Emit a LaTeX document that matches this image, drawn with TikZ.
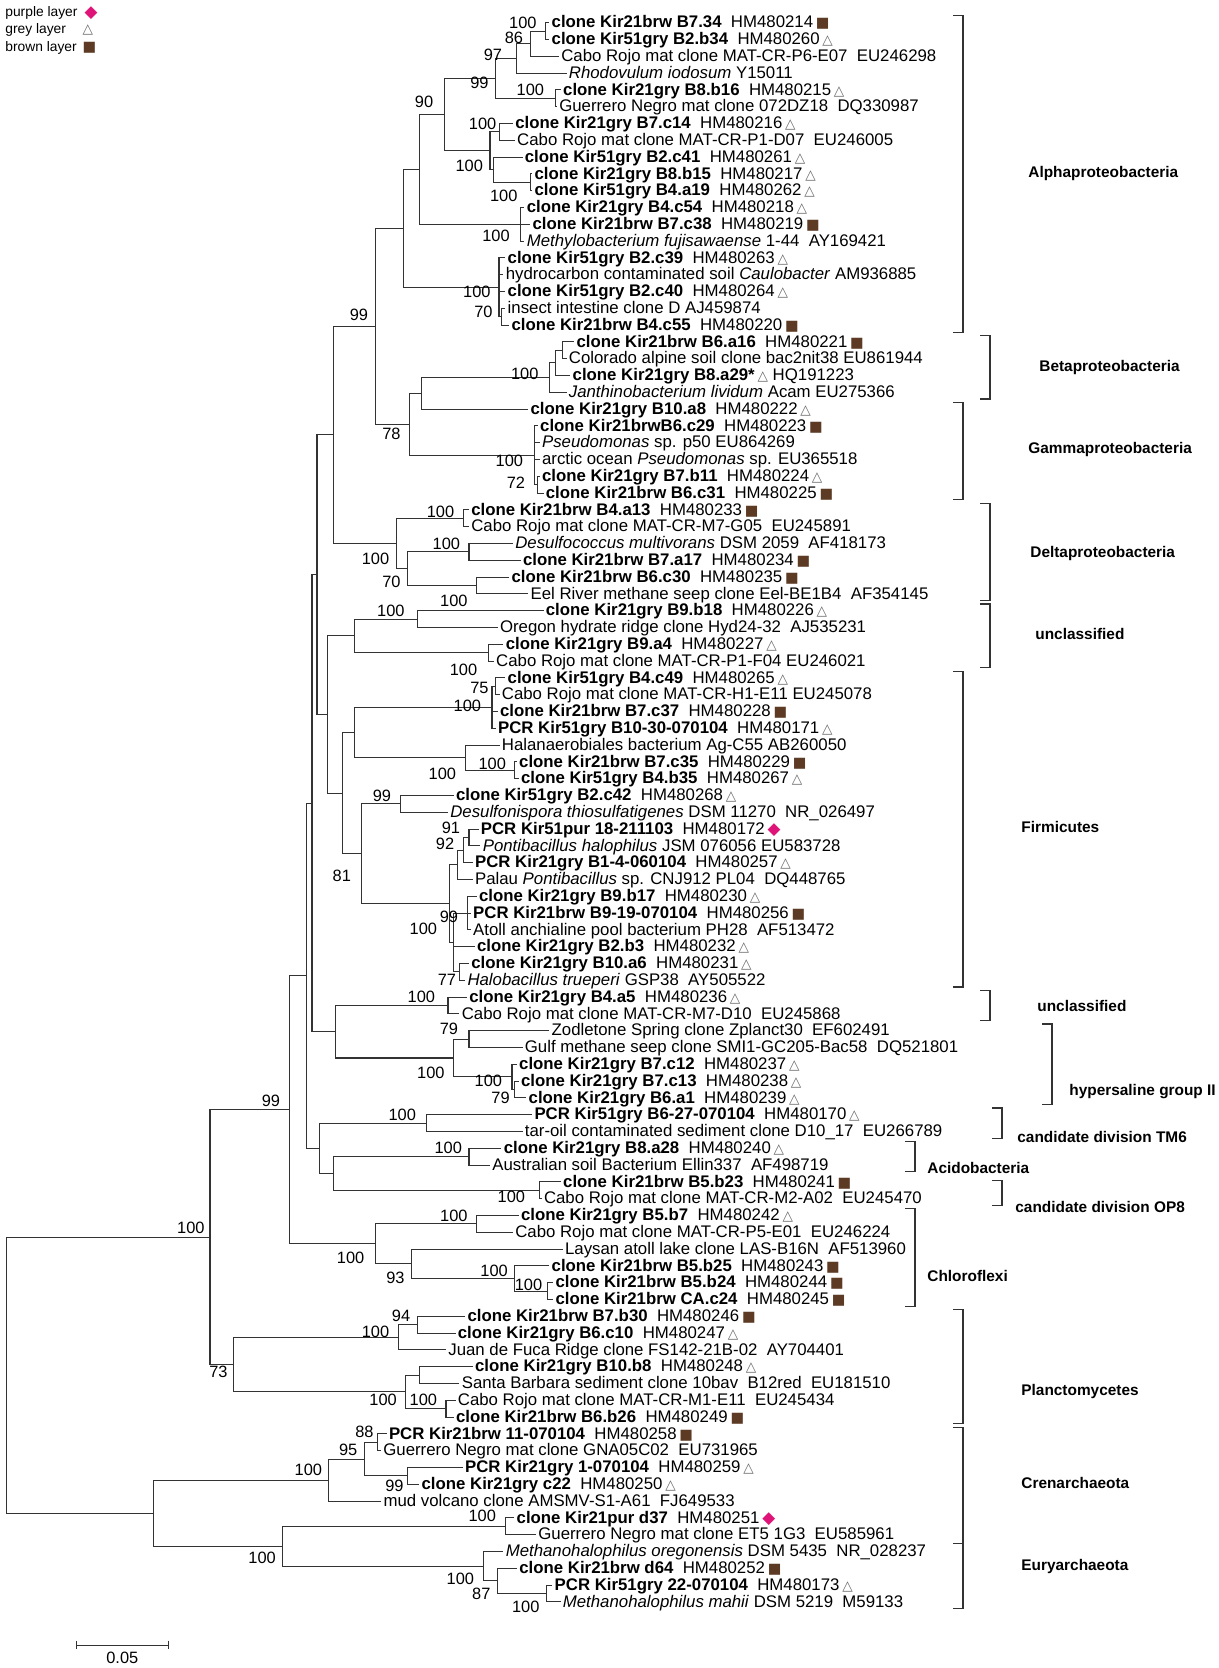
\documentclass[tikz,border=0pt]{standalone}
\usepackage{fontspec}
\setmainfont{Liberation Sans}
\newfontfamily\symf{DejaVu Sans}
\usetikzlibrary{positioning}
\definecolor{brwcol}{RGB}{92,58,36}
\definecolor{grycol}{RGB}{105,105,105}
\definecolor{purcol}{RGB}{222,20,120}
\newcommand{\kir}[2]{\textbf{#1}~ #2}
\newcommand{\brw}{\,{\symf\fontsize{7.2}{7.2}\selectfont\textcolor{brwcol}{■}}}
\newcommand{\gry}{\,{\symf\fontsize{6.8}{6.8}\selectfont\textcolor{grycol}{△}}}
\newcommand{\pur}{\,{\symf\fontsize{8.4}{8.4}\selectfont\textcolor{purcol}{◆}}}
\tikzset{
  lf/.style={anchor=west,inner xsep=1pt,inner ysep=0pt,text height=6.2pt,text depth=1pt,font=\fontsize{8.4}{8.4}\selectfont},
  lg/.style={anchor=west,inner xsep=1pt,inner ysep=0pt,font=\fontsize{6.9}{6.9}\selectfont},
  bs/.style={anchor=east,inner sep=0.5pt,font=\fontsize{8.2}{8.2}\selectfont},
  brch/.style={draw=black!80,line width=0.55pt},
  grp/.style={anchor=west,inner sep=0pt,font=\bfseries\fontsize{7.7}{7.7}\selectfont},
  brk/.style={draw=black!80,line width=0.55pt}
}
\begin{document}
\begin{tikzpicture}[x=0.5pt,y=-8.4pt]
\useasboundingbox (0,-0.3512) rectangle (1219,98.935);

% legend
\node[lg] (lgp) at (3,0.42) {purple layer};
\node[lg] (lgg) at (3,1.43) {grey layer};
\node[lg] (lgb) at (3,2.5) {brown layer};
\node[lg] (sgp) at (80,0.42) {\pur};
\node[lg] (sgg) at (78,1.43) {\gry};
\node[lg] (sgb) at (78,2.5) {\brw};

% leaves
\node[lf] (l1) at (549.3,1) {\kir{clone Kir21brw B7.34}{HM480214}\brw};
\node[lf] (l2) at (549.3,2) {\kir{clone Kir51gry B2.b34}{HM480260}\gry};
\node[lf] (l3) at (558.9,3) {Cabo Rojo mat clone MAT-CR-P6-E07~ EU246298};
\node[lf] (l4) at (566.5,4) {\textit{Rhodovulum iodosum} Y15011};
\node[lf] (l5) at (560.8,5) {\kir{clone Kir21gry B8.b16}{HM480215}\gry};
\node[lf] (l6) at (556.9,6) {Guerrero Negro mat clone 072DZ18~ DQ330987};
\node[lf] (l7) at (512.9,7) {\kir{clone Kir21gry B7.c14}{HM480216}\gry};
\node[lf] (l8) at (514.8,8) {Cabo Rojo mat clone MAT-CR-P1-D07~ EU246005};
\node[lf] (l9) at (522.5,9) {\kir{clone Kir51gry B2.c41}{HM480261}\gry};
\node[lf] (l10) at (532.1,10) {\kir{clone Kir21gry B8.b15}{HM480217}\gry};
\node[lf] (l11) at (532.1,11) {\kir{clone Kir51gry B4.a19}{HM480262}\gry};
\node[lf] (l12) at (524.4,12) {\kir{clone Kir21gry B4.c54}{HM480218}\gry};
\node[lf] (l13) at (530.1,13) {\kir{clone Kir21brw B7.c38}{HM480219}\brw};
\node[lf] (l14) at (524.4,14) {\textit{Methylobacterium fujisawaense} 1-44~ AY169421};
\node[lf] (l15) at (505.3,15) {\kir{clone Kir51gry B2.c39}{HM480263}\gry};
\node[lf] (l16) at (503.4,16) {hydrocarbon contaminated soil \textit{Caulobacter} AM936885};
\node[lf] (l17) at (505.3,17) {\kir{clone Kir51gry B2.c40}{HM480264}\gry};
\node[lf] (l18) at (505.3,18) {insect intestine clone D AJ459874};
\node[lf] (l19) at (509.1,19) {\kir{clone Kir21brw B4.c55}{HM480220}\brw};
\node[lf] (l20) at (574.2,20) {\kir{clone Kir21brw B6.a16}{HM480221}\brw};
\node[lf] (l21) at (566.5,21) {Colorado alpine soil clone bac2nit38 EU861944};
\node[lf] (l22) at (570.3,22) {\textbf{clone Kir21gry B8.a29*}\gry\ HQ191223};
\node[lf] (l23) at (566.5,23) {\textit{Janthinobacterium lividum} Acam EU275366};
\node[lf] (l24) at (528.2,24) {\kir{clone Kir21gry B10.a8}{HM480222}\gry};
\node[lf] (l25) at (537.8,25) {\kir{clone Kir21brwB6.c29}{HM480223}\brw};
\node[lf] (l26) at (539.7,26) {\textit{Pseudomonas} sp. p50 EU864269};
\node[lf] (l27) at (539.7,27) {arctic ocean \textit{Pseudomonas} sp. EU365518};
\node[lf] (l28) at (539.7,28) {\kir{clone Kir21gry B7.b11}{HM480224}\gry};
\node[lf] (l29) at (543.5,29) {\kir{clone Kir21brw B6.c31}{HM480225}\brw};
\node[lf] (l30) at (468.9,30) {\kir{clone Kir21brw B4.a13}{HM480233}\brw};
\node[lf] (l31) at (468.9,31) {Cabo Rojo mat clone MAT-CR-M7-G05~ EU245891};
\node[lf] (l32) at (512.9,32) {\textit{Desulfococcus multivorans} DSM 2059~ AF418173};
\node[lf] (l33) at (520.6,33) {\kir{clone Kir21brw B7.a17}{HM480234}\brw};
\node[lf] (l34) at (509.1,34) {\kir{clone Kir21brw B6.c30}{HM480235}\brw};
\node[lf] (l35) at (528.2,35) {Eel River methane seep clone Eel-BE1B4~ AF354145};
\node[lf] (l36) at (543.5,36) {\kir{clone Kir21gry B9.b18}{HM480226}\gry};
\node[lf] (l37) at (497.6,37) {Oregon hydrate ridge clone Hyd24-32~ AJ535231};
\node[lf] (l38) at (503.4,38) {\kir{clone Kir21gry B9.a4}{HM480227}\gry};
\node[lf] (l39) at (493.8,39) {Cabo Rojo mat clone MAT-CR-P1-F04 EU246021};
\node[lf] (l40) at (505.3,40) {\kir{clone Kir51gry B4.c49}{HM480265}\gry};
\node[lf] (l41) at (499.5,41) {Cabo Rojo mat clone MAT-CR-H1-E11 EU245078};
\node[lf] (l42) at (497.6,42) {\kir{clone Kir21brw B7.c37}{HM480228}\brw};
\node[lf] (l43) at (495.7,43) {\kir{PCR Kir51gry B10-30-070104}{HM480171}\gry};
\node[lf] (l44) at (499.5,44) {Halanaerobiales bacterium Ag-C55 AB260050};
\node[lf] (l45) at (516.8,45) {\kir{clone Kir21brw B7.c35}{HM480229}\brw};
\node[lf] (l46) at (518.7,46) {\kir{clone Kir51gry B4.b35}{HM480267}\gry};
\node[lf] (l47) at (453.6,47) {\kir{clone Kir51gry B2.c42}{HM480268}\gry};
\node[lf] (l48) at (447.9,48) {\textit{Desulfonispora thiosulfatigenes} DSM 11270~ NR\_026497};
\node[lf] (l49) at (478.5,49) {\kir{PCR Kir51pur 18-211103}{HM480172}\pur};
\node[lf] (l50) at (480.4,50) {\textit{Pontibacillus halophilus} JSM 076056 EU583728};
\node[lf] (l51) at (472.7,51) {\kir{PCR Kir21gry B1-4-060104}{HM480257}\gry};
\node[lf] (l52) at (472.7,52) {Palau \textit{Pontibacillus} sp. CNJ912 PL04~ DQ448765};
\node[lf] (l53) at (476.6,53) {\kir{clone Kir21gry B9.b17}{HM480230}\gry};
\node[lf] (l54) at (470.8,54) {\kir{PCR Kir21brw B9-19-070104}{HM480256}\brw};
\node[lf] (l55) at (470.8,55) {Atoll anchialine pool bacterium PH28~ AF513472};
\node[lf] (l56) at (474.7,56) {\kir{clone Kir21gry B2.b3}{HM480232}\gry};
\node[lf] (l57) at (468.9,57) {\kir{clone Kir21gry B10.a6}{HM480231}\gry};
\node[lf] (l58) at (465.1,58) {\textit{Halobacillus trueperi} GSP38~ AY505522};
\node[lf] (l59) at (467,59) {\kir{clone Kir21gry B4.a5}{HM480236}\gry};
\node[lf] (l60) at (459.4,60) {Cabo Rojo mat clone MAT-CR-M7-D10~ EU245868};
\node[lf] (l61) at (549.3,61) {Zodletone Spring clone Zplanct30~ EF602491};
\node[lf] (l62) at (522.5,62) {Gulf methane seep clone SMI1-GC205-Bac58~ DQ521801};
\node[lf] (l63) at (516.8,63) {\kir{clone Kir21gry B7.c12}{HM480237}\gry};
\node[lf] (l64) at (518.7,64) {\kir{clone Kir21gry B7.c13}{HM480238}\gry};
\node[lf] (l65) at (526.3,65) {\kir{clone Kir21gry B6.a1}{HM480239}\gry};
\node[lf] (l66) at (532.1,66) {\kir{PCR Kir51gry B6-27-070104}{HM480170}\gry};
\node[lf] (l67) at (522.5,67) {tar-oil contaminated sediment clone D10\_17~ EU266789};
\node[lf] (l68) at (501.4,68) {\kir{clone Kir21gry B8.a28}{HM480240}\gry};
\node[lf] (l69) at (490,69) {Australian soil Bacterium Ellin337~ AF498719};
\node[lf] (l70) at (560.8,70) {\kir{clone Kir21brw B5.b23}{HM480241}\brw};
\node[lf] (l71) at (541.6,71) {Cabo Rojo mat clone MAT-CR-M2-A02~ EU245470};
\node[lf] (l72) at (518.7,72) {\kir{clone Kir21gry B5.b7}{HM480242}\gry};
\node[lf] (l73) at (512.9,73) {Cabo Rojo mat clone MAT-CR-P5-E01~ EU246224};
\node[lf] (l74) at (562.7,74) {Laysan atoll lake clone LAS-B16N~ AF513960};
\node[lf] (l75) at (549.3,75) {\kir{clone Kir21brw B5.b25}{HM480243}\brw};
\node[lf] (l76) at (553.1,76) {\kir{clone Kir21brw B5.b24}{HM480244}\brw};
\node[lf] (l77) at (553.1,77) {\kir{clone Kir21brw CA.c24}{HM480245}\brw};
\node[lf] (l78) at (465.1,78) {\kir{clone Kir21brw B7.b30}{HM480246}\brw};
\node[lf] (l79) at (455.5,79) {\kir{clone Kir21gry B6.c10}{HM480247}\gry};
\node[lf] (l80) at (446,80) {Juan de Fuca Ridge clone FS142-21B-02~ AY704401};
\node[lf] (l81) at (472.7,81) {\kir{clone Kir21gry B10.b8}{HM480248}\gry};
\node[lf] (l82) at (459.4,82) {Santa Barbara sediment clone 10bav~ B12red~ EU181510};
\node[lf] (l83) at (455.5,83) {Cabo Rojo mat clone MAT-CR-M1-E11~ EU245434};
\node[lf] (l84) at (453.6,84) {\kir{clone Kir21brw B6.b26}{HM480249}\brw};
\node[lf] (l85) at (386.6,85) {\kir{PCR Kir21brw 11-070104}{HM480258}\brw};
\node[lf] (l86) at (381,86) {Guerrero Negro mat clone GNA05C02~ EU731965};
\node[lf] (l87) at (462.7,87) {\kir{PCR Kir21gry 1-070104}{HM480259}\gry};
\node[lf] (l88) at (419.2,88) {\kir{clone Kir21gry c22}{HM480250}\gry};
\node[lf] (l89) at (381.2,89) {mud volcano clone AMSMV-S1-A61~ FJ649533};
\node[lf] (l90) at (514.3,90) {\kir{clone Kir21pur d37}{HM480251}\pur};
\node[lf] (l91) at (536,91) {Guerrero Negro mat clone ET5 1G3~ EU585961};
\node[lf] (l92) at (503.4,92) {\textit{Methanohalophilus oregonensis} DSM 5435~ NR\_028237};
\node[lf] (l93) at (517,93) {\kir{clone Kir21brw d64}{HM480252}\brw};
\node[lf] (l94) at (552.3,94) {\kir{PCR Kir51gry 22-070104}{HM480173}\gry};
\node[lf] (l95) at (560.5,95) {\textit{Methanohalophilus mahii} DSM 5219~ M59133};

% internal nodes
\coordinate (n12) at (545.5,1.5);
\coordinate (n86) at (530.2,2.25);
\coordinate (n97) at (516.8,3.125);
\coordinate (n56) at (555.1,5.5);
\coordinate (n99a) at (495.8,4.3125);
\coordinate (n78) at (499.6,7.5);
\coordinate (n1011) at (530.2,10.5);
\coordinate (n911) at (493.9,9.75);
\coordinate (nB) at (490,8.625);
\coordinate (n90) at (444.1,6.47);
\coordinate (n1214) at (520.7,13);
\coordinate (nA) at (419.3,9.73);
\coordinate (n1819) at (501.5,18.5);
\coordinate (ncau) at (499,16.75);
\coordinate (nBb) at (403.9,13.24);
\coordinate (n2021) at (562.8,20.5);
\coordinate (nb1) at (555.1,21.25);
\coordinate (nbeta) at (549.4,22.125);
\coordinate (nbg) at (421.2,23.06);
\coordinate (n2829) at (537.9,28.5);
\coordinate (ngam) at (534.1,26.75);
\coordinate (n78b) at (409.7,24.9);
\coordinate (n99b) at (375.2,19.07);
\coordinate (n3031) at (463.3,30.5);
\coordinate (n3233) at (469,32.5);
\coordinate (n3435) at (476.7,34.5);
\coordinate (nd2) at (407.8,33.5);
\coordinate (ndel) at (396.3,32);
\coordinate (nprot) at (333.1,25.535);
\coordinate (n3637) at (417.3,36.5);
\coordinate (n3839) at (488.1,38.5);
\coordinate (nu1) at (354.2,37.5);
\coordinate (n4041) at (495.8,40.5);
\coordinate (n4043) at (492,41.75);
\coordinate (n4546) at (514.9,45.5);
\coordinate (n4446) at (465.2,44.75);
\coordinate (nf1) at (354.2,43.25);
\coordinate (n4748) at (400.1,47.5);
\coordinate (n4950) at (469,49.5);
\coordinate (n92) at (463.3,50.25);
\coordinate (npal) at (457.5,51.125);
\coordinate (n5355) at (467.1,54);
\coordinate (n5758) at (459.4,57.5);
\coordinate (n100c) at (453.7,55.75);
\coordinate (nbcl) at (449.9,53.44);
\coordinate (n81) at (361.8,50.47);
\coordinate (nfirm) at (342.7,46.86);
\coordinate (nuf) at (327.4,42.18);
\coordinate (nP1) at (317,33.86);
\coordinate (n5960) at (448,59.5);
\coordinate (n6162) at (469,61.5);
\coordinate (n6465) at (514.9,64.5);
\coordinate (n6365) at (512,63.75);
\coordinate (nhyp) at (453.7,62.625);
\coordinate (nuh) at (335.1,61.06);
\coordinate (nB3) at (312,47.46);
\coordinate (nTM6) at (426.9,66.5);
\coordinate (n6869) at (469,68.5);
\coordinate (n7071) at (539.8,70.5);
\coordinate (nacop) at (333.1,69.5);
\coordinate (nAO) at (319.8,68);
\coordinate (nB2) at (306.4,57.73);
\coordinate (n7273) at (476.7,72.5);
\coordinate (n7677) at (547.5,76.5);
\coordinate (n7577) at (514.9,75.75);
\coordinate (n93) at (411.6,74.875);
\coordinate (nchl) at (375.2,73.69);
\coordinate (nB1) at (289.1,65.71);
\coordinate (n7879) at (417.3,78.5);
\coordinate (n780) at (398.2,79.25);
\coordinate (n8182) at (419.3,81.5);
\coordinate (n8384) at (446,83.5);
\coordinate (n8184) at (405.9,82.5);
\coordinate (npl) at (233.7,80.875);
\coordinate (nbact) at (210,73.29);
\coordinate (n8586) at (377.7,85.5);
\coordinate (n8788) at (407.6,87.5);
\coordinate (n95) at (364.1,86.5);
\coordinate (ncren) at (328.8,87.75);
\coordinate (n9091) at (505.4,90.5);
\coordinate (n9495) at (546.2,94.5);
\coordinate (n9395) at (497.3,93.75);
\coordinate (nmeth) at (483.7,92.875);
\coordinate (neury) at (282.6,91.69);
\coordinate (narch) at (153.8,89.72);
\coordinate (nroot) at (6.5,81.5);

% branches
\draw[brch] (n12) |- (l1.west) (n12) |- (l2.west);
\draw[brch] (n86) |- (n12) (n86) |- (l3.west);
\draw[brch] (n97) |- (n86) (n97) |- (l4.west);
\draw[brch] (n56) |- (l5.west) (n56) |- (l6.west);
\draw[brch] (n99a) |- (n97) (n99a) |- (n56);
\draw[brch] (n78) |- (l7.west) (n78) |- (l8.west);
\draw[brch] (n1011) |- (l10.west) (n1011) |- (l11.west);
\draw[brch] (n911) |- (l9.west) (n911) |- (n1011);
\draw[brch] (nB) |- (n78) (nB) |- (n911);
\draw[brch] (n90) |- (n99a) (n90) |- (nB);
\draw[brch] (n1214) |- (l12.west) (n1214) |- (l13.west) (n1214) |- (l14.west);
\draw[brch] (nA) |- (n90) (nA) |- (n1214);
\draw[brch] (n1819) |- (l18.west) (n1819) |- (l19.west);
\draw[brch] (ncau) |- (l15.west) (ncau) |- (l16.west) (ncau) |- (l17.west) (ncau) |- (n1819);
\draw[brch] (nBb) |- (nA) (nBb) |- (ncau);
\draw[brch] (n2021) |- (l20.west) (n2021) |- (l21.west);
\draw[brch] (nb1) |- (n2021) (nb1) |- (l22.west);
\draw[brch] (nbeta) |- (nb1) (nbeta) |- (l23.west);
\draw[brch] (nbg) |- (nbeta) (nbg) |- (l24.west);
\draw[brch] (n2829) |- (l28.west) (n2829) |- (l29.west);
\draw[brch] (ngam) |- (l25.west) (ngam) |- (l26.west) (ngam) |- (l27.west) (ngam) |- (n2829);
\draw[brch] (n78b) |- (nbg) (n78b) |- (ngam);
\draw[brch] (n99b) |- (nBb) (n99b) |- (n78b);
\draw[brch] (n3031) |- (l30.west) (n3031) |- (l31.west);
\draw[brch] (n3233) |- (l32.west) (n3233) |- (l33.west);
\draw[brch] (n3435) |- (l34.west) (n3435) |- (l35.west);
\draw[brch] (nd2) |- (n3233) (nd2) |- (n3435);
\draw[brch] (ndel) |- (n3031) (ndel) |- (nd2);
\draw[brch] (nprot) |- (n99b) (nprot) |- (ndel);
\draw[brch] (n3637) |- (l36.west) (n3637) |- (l37.west);
\draw[brch] (n3839) |- (l38.west) (n3839) |- (l39.west);
\draw[brch] (nu1) |- (n3637) (nu1) |- (n3839);
\draw[brch] (n4041) |- (l40.west) (n4041) |- (l41.west);
\draw[brch] (n4043) |- (n4041) (n4043) |- (l42.west) (n4043) |- (l43.west);
\draw[brch] (n4546) |- (l45.west) (n4546) |- (l46.west);
\draw[brch] (n4446) |- (l44.west) (n4446) |- (n4546);
\draw[brch] (nf1) |- (n4043) (nf1) |- (n4446);
\draw[brch] (n4748) |- (l47.west) (n4748) |- (l48.west);
\draw[brch] (n4950) |- (l49.west) (n4950) |- (l50.west);
\draw[brch] (n92) |- (n4950) (n92) |- (l51.west);
\draw[brch] (npal) |- (n92) (npal) |- (l52.west);
\draw[brch] (n5355) |- (l53.west) (n5355) |- (l54.west) (n5355) |- (l55.west);
\draw[brch] (n5758) |- (l57.west) (n5758) |- (l58.west);
\draw[brch] (n100c) |- (n5355) (n100c) |- (l56.west) (n100c) |- (n5758);
\draw[brch] (nbcl) |- (npal) (nbcl) |- (n100c);
\draw[brch] (n81) |- (n4748) (n81) |- (nbcl);
\draw[brch] (nfirm) |- (nf1) (nfirm) |- (n81);
\draw[brch] (nuf) |- (nu1) (nuf) |- (nfirm);
\draw[brch] (nP1) |- (nprot) (nP1) |- (nuf);
\draw[brch] (n5960) |- (l59.west) (n5960) |- (l60.west);
\draw[brch] (n6162) |- (l61.west) (n6162) |- (l62.west);
\draw[brch] (n6465) |- (l64.west) (n6465) |- (l65.west);
\draw[brch] (n6365) |- (l63.west) (n6365) |- (n6465);
\draw[brch] (nhyp) |- (n6162) (nhyp) |- (n6365);
\draw[brch] (nuh) |- (n5960) (nuh) |- (nhyp);
\draw[brch] (nB3) |- (nP1) (nB3) |- (nuh);
\draw[brch] (nTM6) |- (l66.west) (nTM6) |- (l67.west);
\draw[brch] (n6869) |- (l68.west) (n6869) |- (l69.west);
\draw[brch] (n7071) |- (l70.west) (n7071) |- (l71.west);
\draw[brch] (nacop) |- (n6869) (nacop) |- (n7071);
\draw[brch] (nAO) |- (nTM6) (nAO) |- (nacop);
\draw[brch] (nB2) |- (nB3) (nB2) |- (nAO);
\draw[brch] (n7273) |- (l72.west) (n7273) |- (l73.west);
\draw[brch] (n7677) |- (l76.west) (n7677) |- (l77.west);
\draw[brch] (n7577) |- (l75.west) (n7577) |- (n7677);
\draw[brch] (n93) |- (l74.west) (n93) |- (n7577);
\draw[brch] (nchl) |- (n7273) (nchl) |- (n93);
\draw[brch] (nB1) |- (nB2) (nB1) |- (nchl);
\draw[brch] (n7879) |- (l78.west) (n7879) |- (l79.west);
\draw[brch] (n780) |- (n7879) (n780) |- (l80.west);
\draw[brch] (n8182) |- (l81.west) (n8182) |- (l82.west);
\draw[brch] (n8384) |- (l83.west) (n8384) |- (l84.west);
\draw[brch] (n8184) |- (n8182) (n8184) |- (n8384);
\draw[brch] (npl) |- (n780) (npl) |- (n8184);
\draw[brch] (nbact) |- (nB1) (nbact) |- (npl);
\draw[brch] (n8586) |- (l85.west) (n8586) |- (l86.west);
\draw[brch] (n8788) |- (l87.west) (n8788) |- (l88.west);
\draw[brch] (n95) |- (n8586) (n95) |- (n8788);
\draw[brch] (ncren) |- (n95) (ncren) |- (l89.west);
\draw[brch] (n9091) |- (l90.west) (n9091) |- (l91.west);
\draw[brch] (n9495) |- (l94.west) (n9495) |- (l95.west);
\draw[brch] (n9395) |- (l93.west) (n9395) |- (n9495);
\draw[brch] (nmeth) |- (l92.west) (nmeth) |- (n9395);
\draw[brch] (neury) |- (n9091) (neury) |- (nmeth);
\draw[brch] (narch) |- (ncren) (narch) |- (neury);
\draw[brch] (nroot) |- (nbact) (nroot) |- (narch);

% bootstrap values
\node[bs] (b12) at (537.9,1.0) {100};
\node[bs] (b86) at (524.5,1.9) {86};
\node[bs] (b97) at (503.4,2.93) {97};
\node[bs] (b99a) at (490,4.58) {99};
\node[bs] (b90) at (434.6,5.7) {90};
\node[bs] (b56) at (545.5,4.99) {100};
\node[bs] (b78) at (497.7,7.03) {100};
\node[bs] (b911) at (484.3,9.53) {100};
\node[bs] (b1011) at (518.8,11.3) {100};
\node[bs] (b1214) at (511.1,13.7) {100};
\node[bs] (b99b) at (369.5,18.4) {99};
\node[bs] (bcau) at (492,17.0) {100};
\node[bs] (b1819) at (493.9,18.2) {70};
\node[bs] (bbeta) at (539.8,21.9) {100};
\node[bs] (b78b) at (402,25.5) {78};
\node[bs] (bgam) at (524.5,27.1) {100};
\node[bs] (b2829) at (526.4,28.4) {72};
\node[bs] (b3031) at (455.6,30.1) {100};
\node[bs] (b3233) at (461.4,32.0) {100};
\node[bs] (bdel) at (390.6,32.9) {100};
\node[bs] (bd2) at (402,34.3) {70};
\node[bs] (b3435) at (469,35.4) {100};
\node[bs] (b3637) at (405.9,36.0) {100};
\node[bs] (b3839) at (478.6,39.55) {100};
\node[bs] (b4041) at (490,40.6) {75};
\node[bs] (b4043) at (482.4,41.67) {100};
\node[bs] (b4546) at (507.3,45.1) {100};
\node[bs] (b4446) at (457.5,45.7) {100};
\node[bs] (b4748) at (392.5,47.0) {99};
\node[bs] (b4950) at (461.4,48.9) {91};
\node[bs] (b92) at (455.6,49.9) {92};
\node[bs] (b81) at (352.3,51.8) {81};
\node[bs] (b100c) at (438.4,54.95) {100};
\node[bs] (b5355) at (459.4,54.2) {99};
\node[bs] (b5758) at (457.5,58.0) {77};
\node[bs] (b5960) at (436.5,59.0) {100};
\node[bs] (b6162) at (459.4,60.9) {79};
\node[bs] (bhyp) at (446,63.5) {100};
\node[bs] (b6365) at (503.4,64.0) {100};
\node[bs] (b6465) at (511.1,65.0) {79};
\node[bs] (bB1) at (281.5,65.2) {99};
\node[bs] (bTM6) at (417.3,66.0) {100};
\node[bs] (b6869) at (463.3,68.0) {100};
\node[bs] (b7071) at (526.4,70.9) {100};
\node[bs] (b7273) at (469,72.0) {100};
\node[bs] (bchl) at (365.7,74.5) {100};
\node[bs] (b93) at (405.9,75.7) {93};
\node[bs] (b7577) at (509.2,75.3) {100};
\node[bs] (b7677) at (543.6,76.1) {100};
\node[bs] (b7879) at (411.6,78.0) {94};
\node[bs] (b780) at (390.6,78.9) {100};
\node[bs] (b8184) at (398.2,83.0) {100};
\node[bs] (b8384) at (438.4,83.0) {100};
\node[bs] (bpl) at (229,81.3) {73};
\node[bs] (bbact) at (206,72.75) {100};
\node[bs] (b8586) at (375,84.9) {88};
\node[bs] (b95) at (358.7,85.96) {95};
\node[bs] (bcren) at (323.4,87.15) {100};
\node[bs] (b8788) at (404.9,88.1) {99};
\node[bs] (b9091) at (497.3,89.9) {100};
\node[bs] (beury) at (277.2,92.4) {100};
\node[bs] (bmeth) at (475.5,93.6) {100};
\node[bs] (b9395) at (491.8,94.5) {87};
\node[bs] (b9495) at (540.8,95.3) {100};

% clade brackets
\draw[brk] (953,0.55) -| (963,19.45) -- (953,19.45);
\draw[brk] (980,19.6) -| (990,23.4) -- (980,23.4);
\draw[brk] (953,23.6) -| (963,29.4) -- (953,29.4);
\draw[brk] (980,29.6) -| (990,35.4) -- (980,35.4);
\draw[brk] (980,35.6) -| (990,39.4) -- (980,39.4);
\draw[brk] (953,39.6) -| (963,58.4) -- (953,58.4);
\draw[brk] (980,58.6) -| (990,60.4) -- (980,60.4);
\draw[brk] (1042,60.6) -| (1052,65.4) -- (1042,65.4);
\draw[brk] (992,65.6) -| (1002,67.4) -- (992,67.4);
\draw[brk] (905,67.6) -| (915,69.4) -- (905,69.4);
\draw[brk] (992,69.9) -| (1002,71.4) -- (992,71.4);
\draw[brk] (905,71.6) -| (915,77.4) -- (905,77.4);
\draw[brk] (953,77.6) -| (963,84.4) -- (953,84.4);
\draw[brk] (953,84.6) -| (963,91.5) -- (953,91.5);
\draw[brk] (953,91.5) -| (963,95.4) -- (953,95.4);

\node[grp] (galp) at (1028,9.97) {Alphaproteobacteria};
\node[grp] (gbet) at (1039,21.5) {Betaproteobacteria};
\node[grp] (ggam) at (1028,26.4) {Gammaproteobacteria};
\node[grp] (gdel) at (1030,32.6) {Deltaproteobacteria};
\node[grp] (gun1) at (1035,37.4) {unclassified};
\node[grp] (gfir) at (1021,48.9) {Firmicutes};
\node[grp] (gun2) at (1037,59.5) {unclassified};
\node[grp] (ghyp) at (1069,64.6) {hypersaline group II};
\node[grp] (gtm6) at (1017,67.3) {candidate division TM6};
\node[grp] (gaci) at (927,69.15) {Acidobacteria};
\node[grp] (gop8) at (1015,71.5) {candidate division OP8};
\node[grp] (gchl) at (927,75.6) {Chloroflexi};
\node[grp] (gpla) at (1021,82.5) {Planctomycetes};
\node[grp] (gcre) at (1021,87.9) {Crenarchaeota};
\node[grp] (geur) at (1021,92.9) {Euryarchaeota};

% scale bar
\coordinate (sb0) at (76.1,97.57);
\coordinate (sb1) at (168.5,97.57);
\draw[brch] (sb0) -- (sb1);
\draw[brch] ([yshift=2.2pt]sb0) -- ([yshift=-2.2pt]sb0);
\draw[brch] ([yshift=2.2pt]sb1) -- ([yshift=-2.2pt]sb1);
\node[bs,anchor=north] (sbl) at (122.3,97.9) {0.05};
\end{tikzpicture}
\end{document}
